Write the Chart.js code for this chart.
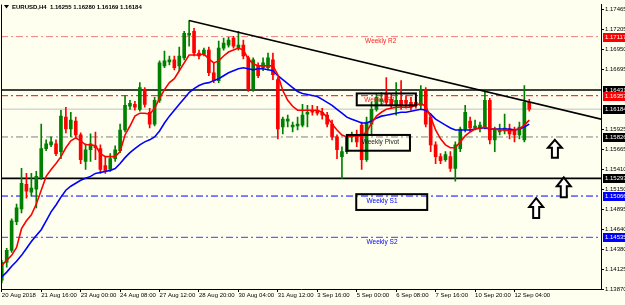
<!DOCTYPE html>
<html>
<head>
<meta charset="utf-8">
<script src="https://cdn.jsdelivr.net/npm/chart.js@4.4.1/dist/chart.umd.min.js"></script>
<style>
  html, body { margin: 0; padding: 0; background: #fffff0; }
  #c { display: block; }
</style>
</head>
<body>
<canvas id="c" width="625" height="305"></canvas>
<script>
// EURUSD H4 bars, oldest first
const opens = [1.13985,1.14214,1.14366,1.14735,1.14900,1.15217,1.15116,1.15154,1.15306,1.15675,1.15725,1.15738,1.15637,1.16081,1.15929,1.16030,1.15852,1.15510,1.15662,1.15713,1.15675,1.15459,1.15408,1.15548,1.15649,1.15916,1.16221,1.16246,1.16182,1.16436,1.16144,1.15992,1.16297,1.16741,1.16792,1.16817,1.16741,1.16843,1.17135,1.17186,1.16906,1.16894,1.16944,1.16652,1.16551,1.16970,1.17008,1.17097,1.16970,1.17008,1.16843,1.16436,1.16741,1.16716,1.16716,1.16817,1.16563,1.15954,1.16030,1.15954,1.15967,1.15979,1.16119,1.16170,1.16170,1.16144,1.16106,1.15992,1.15827,1.15573,1.15637,1.15827,1.15852,1.15979,1.15535,1.15992,1.16182,1.16284,1.16373,1.16309,1.16233,1.16297,1.16297,1.16271,1.16271,1.16233,1.16436,1.16081,1.15725,1.15573,1.15535,1.15573,1.15421,1.15675,1.15929,1.16030,1.15941,1.15929,1.15954,1.16297,1.15789,1.15890,1.15903,1.15929,1.15929,1.15852,1.15789,1.16271];
const highs = [1.14239,1.14392,1.14773,1.14963,1.15421,1.15357,1.15357,1.15383,1.15992,1.15789,1.15827,1.15789,1.16170,1.16208,1.16144,1.16081,1.15878,1.15738,1.15865,1.15890,1.15725,1.15573,1.15611,1.15713,1.15992,1.16360,1.16297,1.16284,1.16525,1.16462,1.16195,1.16335,1.16805,1.16932,1.16868,1.16868,1.16982,1.17186,1.17325,1.17224,1.16944,1.16970,1.16982,1.16779,1.17059,1.17097,1.17109,1.17122,1.17186,1.17071,1.16868,1.16843,1.16779,1.16843,1.16906,1.16906,1.16589,1.16081,1.16106,1.16017,1.16081,1.16246,1.16233,1.16233,1.16221,1.16195,1.16144,1.16043,1.15852,1.15700,1.15852,1.15890,1.15916,1.16017,1.16081,1.16271,1.16373,1.16398,1.16589,1.16373,1.16525,1.16551,1.16360,1.16335,1.16335,1.16487,1.16462,1.16119,1.15763,1.15611,1.15637,1.15637,1.15763,1.15954,1.16233,1.16081,1.16043,1.16017,1.16424,1.16322,1.15954,1.15992,1.16119,1.15992,1.15954,1.16017,1.16487,1.16309];
const lows = [1.13947,1.14151,1.14341,1.14697,1.14849,1.15040,1.15065,1.14913,1.15281,1.15649,1.15700,1.15586,1.15548,1.15878,1.15827,1.15814,1.15484,1.15408,1.15510,1.15535,1.15357,1.15357,1.15383,1.15510,1.15624,1.15890,1.16182,1.16170,1.16157,1.16208,1.15941,1.15967,1.16271,1.16716,1.16754,1.16690,1.16678,1.16817,1.16995,1.16868,1.16830,1.16868,1.16614,1.16525,1.16525,1.16944,1.16982,1.16970,1.16944,1.16830,1.16411,1.16411,1.16589,1.16678,1.16690,1.16563,1.15802,1.15865,1.15954,1.15890,1.15916,1.15954,1.15954,1.16106,1.16106,1.16055,1.15954,1.15789,1.15548,1.15294,1.15611,1.15763,1.15700,1.15408,1.15510,1.15852,1.16157,1.16233,1.16233,1.16195,1.16106,1.16182,1.16195,1.16170,1.16195,1.16182,1.15954,1.15637,1.15484,1.15484,1.15510,1.15383,1.15256,1.15637,1.15890,1.15890,1.15916,1.15890,1.15929,1.15738,1.15637,1.15852,1.15865,1.15802,1.15763,1.15802,1.15763,1.16157];
const closes = [1.14214,1.14366,1.14747,1.14913,1.15230,1.15129,1.15167,1.15319,1.15675,1.15738,1.15763,1.15611,1.16094,1.15929,1.16043,1.15852,1.15535,1.15662,1.15738,1.15687,1.15408,1.15395,1.15548,1.15662,1.15916,1.16233,1.16259,1.16208,1.16462,1.16246,1.15992,1.16297,1.16779,1.16805,1.16817,1.16716,1.16868,1.17160,1.17160,1.16906,1.16868,1.16944,1.16652,1.16551,1.16970,1.17033,1.17071,1.16995,1.17008,1.16868,1.16436,1.16817,1.16614,1.16779,1.16843,1.16627,1.15929,1.16055,1.16055,1.15979,1.15992,1.16106,1.16144,1.16144,1.16132,1.16106,1.15992,1.15827,1.15662,1.15637,1.15827,1.15852,1.15763,1.15535,1.16017,1.16182,1.16335,1.16309,1.16271,1.16233,1.16297,1.16233,1.16259,1.16208,1.16233,1.16436,1.15992,1.15725,1.15573,1.15522,1.15598,1.15421,1.15725,1.15929,1.16144,1.15941,1.15967,1.15979,1.16297,1.15789,1.15916,1.15929,1.15941,1.15865,1.15852,1.15954,1.16271,1.16184];

// moving averages
const maFast = [1.14176,1.14239,1.14303,1.14405,1.14646,1.14747,1.14824,1.14963,1.15141,1.15319,1.15408,1.15484,1.15573,1.15687,1.15776,1.15814,1.15776,1.15725,1.15725,1.15713,1.15611,1.15573,1.15573,1.15573,1.15637,1.15852,1.15967,1.16094,1.16132,1.16132,1.16119,1.16195,1.16322,1.16436,1.16525,1.16576,1.16678,1.16779,1.16881,1.16881,1.16881,1.16894,1.16830,1.16779,1.16805,1.16868,1.16919,1.16944,1.16970,1.16944,1.16830,1.16767,1.16741,1.16741,1.16741,1.16741,1.16627,1.16424,1.16297,1.16221,1.16170,1.16170,1.16170,1.16170,1.16170,1.16144,1.16081,1.15992,1.15916,1.15852,1.15827,1.15840,1.15840,1.15840,1.15890,1.16005,1.16094,1.16144,1.16182,1.16195,1.16208,1.16208,1.16208,1.16208,1.16233,1.16259,1.16221,1.16081,1.15916,1.15802,1.15725,1.15687,1.15687,1.15763,1.15840,1.15890,1.15929,1.15941,1.15954,1.15929,1.15929,1.15916,1.15916,1.15903,1.15916,1.15929,1.15979,1.16043];
const maSlow = [1.14024,1.14087,1.14163,1.14227,1.14303,1.14392,1.14481,1.14557,1.14633,1.14747,1.14862,1.14951,1.15052,1.15141,1.15192,1.15230,1.15268,1.15294,1.15319,1.15357,1.15370,1.15383,1.15395,1.15421,1.15484,1.15560,1.15624,1.15675,1.15725,1.15763,1.15789,1.15827,1.15903,1.16005,1.16094,1.16170,1.16246,1.16322,1.16398,1.16449,1.16487,1.16513,1.16525,1.16551,1.16576,1.16614,1.16652,1.16678,1.16703,1.16716,1.16703,1.16690,1.16703,1.16703,1.16690,1.16678,1.16614,1.16563,1.16513,1.16462,1.16411,1.16386,1.16373,1.16360,1.16347,1.16309,1.16271,1.16233,1.16182,1.16132,1.16081,1.16055,1.16030,1.16005,1.16005,1.16030,1.16068,1.16094,1.16106,1.16119,1.16132,1.16144,1.16144,1.16157,1.16170,1.16182,1.16170,1.16119,1.16055,1.16017,1.15979,1.15941,1.15916,1.15916,1.15916,1.15916,1.15929,1.15941,1.15941,1.15929,1.15929,1.15929,1.15929,1.15929,1.15916,1.15929,1.15954,1.15992];

// axis labels
const timeTicks = ['20 Aug 2018','21 Aug 16:00','23 Aug 00:00','24 Aug 08:00','27 Aug 12:00','28 Aug 20:00','30 Aug 04:00','31 Aug 12:00','3 Sep 16:00','5 Sep 00:00','6 Sep 08:00','7 Sep 16:00','10 Sep 20:00','12 Sep 04:00'];
const priceTicks = [1.17465,1.17205,1.16950,1.16695,1.15925,1.15665,1.15410,1.15150,1.14895,1.14640,1.14380,1.14125,1.13870];

// weekly pivot levels
const levelNames = ['Weekly R2','Weekly R1','Weekly Pivot','Weekly S1','Weekly S2'];
const levelValues = [1.17117,1.16357,1.15826,1.15066,1.14535];
const hLines = [1.16431,1.15293];
const bidPrice = 1.16184;
const trendLine = [[38,1.17325],[121.6,1.16055]];
const header = 'EURUSD,H4  1.16255 1.16280 1.16169 1.16184';

// drawn objects (bar index / price)
const boxes = [[72.0,84.0,1.16386,1.16233],[70.0,82.8,1.15852,1.15649],[71.9,86.3,1.15090,1.14887]];
const arrows = [[112.2,1.15789,1.15560],[114.0,1.15306,1.15052],[108.4,1.15040,1.14785]];

const BG = '#fffff0';
const UP = '#008000', DOWN = '#ff0000';
const levelColors = ['#f08080','#ff0000','#808080','#0000ff','#3c3cff'];
const levelText = ['#ff2020','#ff2020','#202020','#0000ff','#0000ff'];
const levelLabelX = [73.7,73.5,73.0,74.0,74.0];
const markerColors = { '1.17117':'#ff0000','1.16431':'#000000','1.16357':'#ff0000','1.16184':'#000000','1.15826':'#000000','1.15293':'#000000','1.15066':'#0000ff','1.14535':'#0000ff' };

const X_MIN = -0.16, X_MAX = 121.55;
const FONT = "'Liberation Sans', Arial, sans-serif";

const isUp = opens.map((o, i) => closes[i] >= o);
const hline = (v, color, width, dash, order) => ({
    type: 'line', data: [{ x: X_MIN, y: v }, { x: X_MAX, y: v }],
    borderColor: color, borderWidth: width, borderDash: dash, pointRadius: 0, order
});

const datasets = [
    ...levelValues.map((v, i) => hline(v, levelColors[i], 1, [7, 3, 2, 3], 20)),
    hline(bidPrice, '#c0c0c0', 1, [], 21),
    ...hLines.map(v => hline(v, '#000000', 1.6, [], 19)),
    {
        type: 'bar', order: 6, grouped: false, barThickness: 1,
        data: lows.map((l, i) => ({ x: i, y: [l, highs[i]] })),
        backgroundColor: isUp.map(u => u ? UP : DOWN)
    },
    {
        type: 'bar', order: 5, grouped: false, barThickness: 3, minBarLength: 1,
        data: opens.map((o, i) => ({ x: i, y: [o, closes[i]] })),
        backgroundColor: isUp.map(u => u ? UP : DOWN)
    },
    { type: 'line', order: 3, data: maSlow.map((v, i) => ({ x: i, y: v })), borderColor: '#0000ff', borderWidth: 1.6, pointRadius: 0, tension: 0 },
    { type: 'line', order: 2, data: maFast.map((v, i) => ({ x: i, y: v })), borderColor: '#ff0000', borderWidth: 1.6, pointRadius: 0, tension: 0 },
    { type: 'line', order: 1, data: trendLine.map(p => ({ x: p[0], y: p[1] })), borderColor: '#000000', borderWidth: 1.5, pointRadius: 0 }
];

// background, drawn objects, price markers, header
const mt4 = {
    id: 'mt4',
    beforeDraw(chart) {
        const { ctx, width, height } = chart;
        ctx.save();
        ctx.fillStyle = BG;
        ctx.fillRect(0, 0, width, height);
        ctx.restore();
    },
    afterDatasetsDraw(chart) {
        const { ctx, chartArea: a } = chart;
        const xs = chart.scales.x, ys = chart.scales.y;
        ctx.save();
        ctx.beginPath();
        ctx.rect(a.left, a.top, a.right - a.left, a.bottom - a.top);
        ctx.clip();

        ctx.font = '6.5px ' + FONT;
        ctx.textBaseline = 'top';
        levelNames.forEach((n, i) => {
            ctx.fillStyle = levelText[i];
            ctx.fillText(n, xs.getPixelForValue(levelLabelX[i]), ys.getPixelForValue(levelValues[i]) + 1.5);
        });

        ctx.strokeStyle = '#000';
        ctx.lineWidth = 2;
        boxes.forEach(b => {
            const x1 = xs.getPixelForValue(b[0]), x2 = xs.getPixelForValue(b[1]);
            const y1 = ys.getPixelForValue(b[2]), y2 = ys.getPixelForValue(b[3]);
            ctx.strokeRect(x1, y1, x2 - x1, y2 - y1);
        });

        arrows.forEach(r => {
            const cx = xs.getPixelForValue(r[0]);
            const ty = ys.getPixelForValue(r[1]), by = ys.getPixelForValue(r[2]);
            const hh = (by - ty) * 0.45, hw = 7, sw = 3;
            ctx.beginPath();
            ctx.moveTo(cx, ty);
            ctx.lineTo(cx + hw, ty + hh);
            ctx.lineTo(cx + sw, ty + hh);
            ctx.lineTo(cx + sw, by);
            ctx.lineTo(cx - sw, by);
            ctx.lineTo(cx - sw, ty + hh);
            ctx.lineTo(cx - hw, ty + hh);
            ctx.closePath();
            ctx.fillStyle = '#ffffff';
            ctx.fill();
            ctx.stroke();
        });
        ctx.restore();
    },
    afterDraw(chart) {
        const { ctx, chartArea: a, width } = chart;
        const ys = chart.scales.y;
        ctx.save();
        // left frame
        ctx.strokeStyle = '#000';
        ctx.lineWidth = 1;
        ctx.beginPath();
        ctx.moveTo(a.left + 0.5, a.top);
        ctx.lineTo(a.left + 0.5, a.bottom);
        ctx.stroke();

        // price markers on the right scale
        ctx.font = '6px ' + FONT;
        ctx.textBaseline = 'middle';
        Object.keys(markerColors).forEach(k => {
            const y = Math.round(ys.getPixelForValue(+k));
            ctx.fillStyle = markerColors[k];
            ctx.fillRect(a.right + 2, y - 4, width - a.right - 2, 9);
            ctx.fillStyle = '#fff';
            ctx.fillText(k, a.right + 4, y + 0.5);
        });

        // header
        ctx.fillStyle = '#000';
        ctx.beginPath();
        ctx.moveTo(4, 5); ctx.lineTo(9, 5); ctx.lineTo(6.5, 8.5); ctx.closePath();
        ctx.fill();
        ctx.font = 'bold 6px ' + FONT;
        ctx.fillText(header, 12, 7);
        ctx.restore();
    }
};

new Chart(document.getElementById('c'), {
    type: 'bar',
    data: { datasets },
    plugins: [mt4],
    options: {
        responsive: false,
        devicePixelRatio: 1,
        animation: false,
        layout: { padding: { left: 1, top: 1, right: 0, bottom: 0 } },
        plugins: { legend: { display: false }, tooltip: { enabled: false } },
        scales: {
            x: {
                type: 'linear', min: X_MIN, max: X_MAX, offset: false,
                grid: { drawOnChartArea: false, offset: false, color: '#000', tickLength: 3 },
                border: { color: '#000' },
                ticks: {
                    autoSkip: false, maxRotation: 0, align: 'start', padding: 0,
                    color: '#000', font: { family: FONT, size: 6 },
                    callback: (v, i) => timeTicks[i]
                },
                afterBuildTicks: s => { s.ticks = timeTicks.map((t, k) => ({ value: k * 8 })); },
                afterFit: s => { s.height = 16; }
            },
            y: {
                type: 'linear', position: 'right', min: 1.13870, max: 1.17529,
                grid: { drawOnChartArea: false, color: '#000', tickLength: 3 },
                border: { color: '#000' },
                ticks: {
                    autoSkip: false, padding: 1, color: '#000',
                    font: { family: FONT, size: 6 },
                    callback: v => v.toFixed(5)
                },
                afterBuildTicks: s => { s.ticks = priceTicks.map(v => ({ value: v })); },
                afterFit: s => { s.width = 24; }
            }
        }
    }
});
</script>
</body>
</html>
